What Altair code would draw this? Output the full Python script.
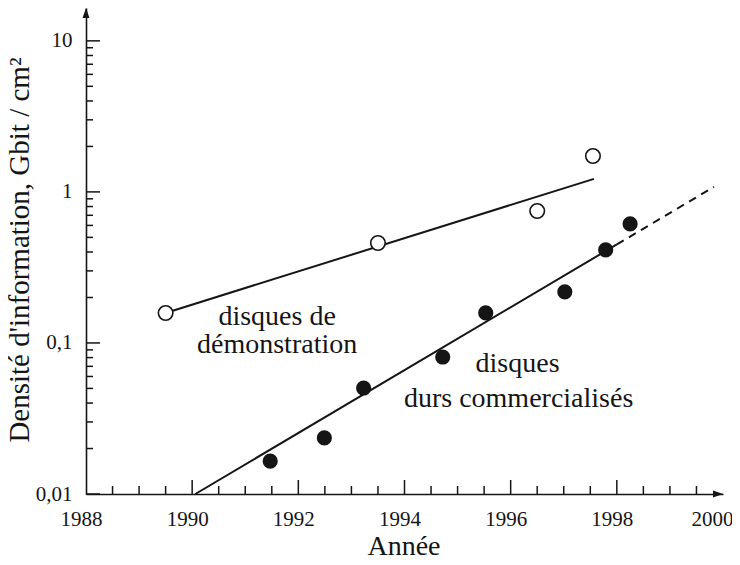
import altair as alt
import pandas as pd

# ---- data ----
demo_years = [1989.5, 1993.5, 1996.5, 1997.55]
demo_vals = [0.158, 0.459, 0.748, 1.73]

comm_years = [1991.47, 1992.49, 1993.23, 1994.72, 1995.53, 1997.02, 1997.79, 1998.25]
comm_vals = [0.0165, 0.0235, 0.0503, 0.0807, 0.158, 0.218, 0.413, 0.614]

demo_fit_years = [1989.5, 1997.57]
demo_fit_vals = [0.158, 1.22]

comm_fit_years = [1990.06, 1998.0]
comm_fit_vals = [0.01, 0.449]

comm_proj_years = [1998.0, 1999.83]
comm_proj_vals = [0.449, 1.08]

x_label_values = [1988, 1990, 1992, 1994, 1996, 1998, 2000]
y_label_values = [0.01, 0.1, 1, 10]

x_major_ticks = [1990, 1992, 1994, 1996, 1998]
x_minor_ticks = [1988.5, 1989, 1989.5, 1990.5, 1991, 1991.5, 1992.5, 1993, 1993.5,
                 1994.5, 1995, 1995.5, 1996.5, 1997, 1997.5, 1998.5, 1999, 1999.5]
y_major_ticks = [0.01, 0.1, 1, 10]
y_minor_ticks = [0.02, 0.03, 0.04, 0.05, 0.06, 0.07, 0.08, 0.09,
                 0.2, 0.3, 0.4, 0.5, 0.6, 0.7, 0.8, 0.9,
                 2, 3, 4, 5, 6, 7, 8, 9]

annot_labels = ["disques de", "démonstration", "disques", "durs commercialisés"]
annot_years = [1991.6, 1991.6, 1996.13, 1996.15]
annot_vals = [0.1315, 0.0859, 0.0643, 0.0377]

x_title = "Année"
y_title = "Densité d'information, Gbit / cm²"

# ---- chart ----
INK = "#151515"
FONT = "Liberation Serif"
W, H = 637, 486

xs = alt.Scale(domain=[1988, 2000], nice=False, zero=False)
ys = alt.Scale(type="log", domain=[0.01, 16.5], nice=False)

x_axis = alt.Axis(values=x_label_values, format="d", title=None, grid=False, ticks=False,
                  domain=True, domainColor=INK, domainWidth=1.6,
                  labelFont=FONT, labelFontSize=21, labelColor=INK,
                  labelPadding=14,
                  labelOffset={"condition": {"test": "datum.value == 2000", "value": -11}, "value": -5},
                  labelFlush=False, labelOverlap=False)
y_axis = alt.Axis(values=y_label_values, title=None, grid=False, ticks=False,
                  domain=True, domainColor=INK, domainWidth=1.6,
                  labelFont=FONT, labelFontSize=21, labelColor=INK,
                  labelPadding=14, labelFlush=False, labelOverlap=False,
                  labelExpr="replace(format(datum.value, ''), '.', ',')")

demo_df = pd.DataFrame({"year": demo_years, "val": demo_vals})
comm_df = pd.DataFrame({"year": comm_years, "val": comm_vals})
demo_fit_df = pd.DataFrame({"year": demo_fit_years, "val": demo_fit_vals})
comm_fit_df = pd.DataFrame({"year": comm_fit_years, "val": comm_fit_vals})
comm_proj_df = pd.DataFrame({"year": comm_proj_years, "val": comm_proj_vals})

X = alt.X("year:Q", scale=xs, axis=x_axis)
Y = alt.Y("val:Q", scale=ys, axis=y_axis)

demo_line = alt.Chart(demo_fit_df).mark_line(color=INK, strokeWidth=2).encode(x=X, y=Y)
comm_line = alt.Chart(comm_fit_df).mark_line(color=INK, strokeWidth=2).encode(x=X, y=Y)
proj_line = alt.Chart(comm_proj_df).mark_line(color=INK, strokeWidth=2, strokeDash=[8, 6]).encode(x=X, y=Y)

demo_pts = alt.Chart(demo_df).mark_point(shape="circle", size=210, filled=False, fill="white",
                                         fillOpacity=1, stroke=INK, strokeWidth=1.6,
                                         opacity=1).encode(x=X, y=Y)
comm_pts = alt.Chart(comm_df).mark_point(shape="circle", size=230, filled=True, color=INK,
                                         opacity=1).encode(x=X, y=Y)

xmaj = alt.Chart(pd.DataFrame({"year": x_major_ticks})).mark_rule(color=INK, strokeWidth=1.5).encode(
    x=X, y=alt.value(H), y2=alt.value(H - 14))
xmin = alt.Chart(pd.DataFrame({"year": x_minor_ticks})).mark_rule(color=INK, strokeWidth=1.5).encode(
    x=X, y=alt.value(H), y2=alt.value(H - 8))
ymaj = alt.Chart(pd.DataFrame({"val": y_major_ticks})).mark_rule(color=INK, strokeWidth=1.5).encode(
    y=Y, x=alt.value(0), x2=alt.value(14))
ymin = alt.Chart(pd.DataFrame({"val": y_minor_ticks})).mark_rule(color=INK, strokeWidth=1.5).encode(
    y=Y, x=alt.value(0), x2=alt.value(7))

arrow_up = alt.Chart(pd.DataFrame({"a": [0]})).mark_point(
    shape="M0,-1L-0.7,1L0.7,1Z", size=100, filled=True, color=INK, opacity=1).encode(
    x=alt.value(0), y=alt.value(5))
arrow_right = alt.Chart(pd.DataFrame({"a": [0]})).mark_point(
    shape="M1,0L-1,-0.7L-1,0.7Z", size=100, filled=True, color=INK, opacity=1).encode(
    x=alt.value(W - 5), y=alt.value(H))

annot_df = pd.DataFrame({"year": annot_years, "val": annot_vals, "label": annot_labels})
annots = alt.Chart(annot_df).mark_text(font=FONT, fontSize=28, color=INK, align="center",
                                       baseline="alphabetic").encode(x=X, y=Y, text="label:N")

xt = alt.Chart(pd.DataFrame({"t": [x_title]})).mark_text(
    font=FONT, fontSize=28, color=INK, align="center", baseline="alphabetic").encode(
    x=alt.value(318), y=alt.value(547), text="t:N")
yt = alt.Chart(pd.DataFrame({"t": [y_title]})).mark_text(
    font=FONT, fontSize=29, color=INK, align="center", baseline="middle", angle=270).encode(
    x=alt.value(-66), y=alt.value(242), text="t:N")

chart = alt.layer(
    xmin, xmaj, ymin, ymaj, demo_line, comm_line, proj_line, demo_pts, comm_pts,
    arrow_up, arrow_right, annots, xt, yt
).properties(
    width=W, height=H,
    autosize=alt.AutoSizeParams(type="none"),
    padding={"left": 78, "top": 0, "right": 9, "bottom": 63},
).configure(background="white").configure_view(stroke=None).configure_axis(labelFont=FONT)

chart.save("out.html", embed_options={"renderer": "svg", "actions": False})
